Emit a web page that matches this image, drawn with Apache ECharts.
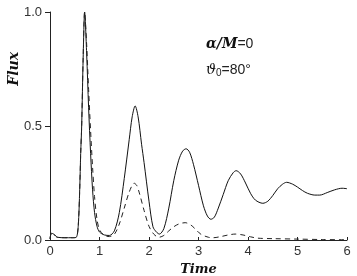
<!DOCTYPE html>
<html><head><meta charset="utf-8">
<script src="https://cdn.jsdelivr.net/npm/echarts@6/dist/echarts.min.js"></script>
<style>html,body{margin:0;padding:0;background:#fff}#c{width:357px;height:276px}</style>
</head><body><div id="c"></div>
<script>
const xTicks = [0,1,2,3,4,5,6];
const yTicks = [0.0,0.5,1.0];
const solidT = [0,0.03,0.08,0.15,0.3,0.45,0.53,0.57,0.6,0.62,0.64,0.67,0.7,0.74,0.78,0.82,0.86,0.9,0.95,1.0,1.1,1.2,1.3,1.4,1.5,1.6,1.66,1.72,1.78,1.85,1.9,2.0,2.08,2.15,2.21,2.3,2.4,2.5,2.6,2.68,2.75,2.82,2.9,3.0,3.1,3.18,3.25,3.32,3.4,3.5,3.6,3.7,3.76,3.85,3.95,4.05,4.15,4.3,4.4,4.5,4.6,4.7,4.78,4.9,5.0,5.1,5.2,5.35,5.45,5.6,5.75,5.9,6.0];
const solidV = [0.005,0.03,0.025,0.012,0.01,0.01,0.012,0.06,0.22,0.38,0.5,0.8,1.0,0.82,0.58,0.38,0.22,0.12,0.06,0.035,0.022,0.02,0.04,0.12,0.27,0.44,0.54,0.588,0.54,0.42,0.34,0.17,0.058,0.035,0.026,0.05,0.14,0.26,0.35,0.39,0.40,0.385,0.33,0.24,0.15,0.105,0.091,0.1,0.14,0.2,0.26,0.295,0.304,0.29,0.25,0.205,0.175,0.161,0.17,0.195,0.225,0.245,0.253,0.245,0.232,0.217,0.205,0.197,0.197,0.208,0.22,0.227,0.225];
const dashT = [0,0.03,0.08,0.15,0.3,0.45,0.53,0.57,0.6,0.62,0.64,0.67,0.7,0.74,0.78,0.82,0.86,0.9,0.95,1.0,1.1,1.2,1.3,1.4,1.5,1.6,1.7,1.75,1.8,1.9,2.0,2.1,2.2,2.3,2.4,2.5,2.6,2.73,2.85,2.95,3.05,3.2,3.3,3.45,3.6,3.74,3.9,4.05,4.2,4.5,5.0,5.5,6.0];
const dashV = [0.005,0.03,0.025,0.012,0.01,0.01,0.012,0.06,0.22,0.38,0.5,0.8,1.0,0.86,0.66,0.48,0.32,0.19,0.09,0.045,0.02,0.015,0.025,0.07,0.14,0.21,0.249,0.24,0.21,0.13,0.06,0.025,0.012,0.02,0.04,0.058,0.07,0.076,0.065,0.045,0.025,0.012,0.01,0.015,0.022,0.026,0.022,0.014,0.008,0.006,0.004,0.002,0.001];
const zip = (a,b)=>a.map((t,i)=>[t,b[i]]);
const serif = 'DejaVu Serif';
const chart = echarts.init(document.getElementById('c'));
chart.setOption({
  animation:false,
  grid:{left:50,right:10,top:12,bottom:36,containLabel:false,outerBoundsMode:'none'},
  xAxis:{type:'value',min:0,max:6,interval:1,
    axisLine:{lineStyle:{color:'#222',width:1}},
    axisTick:{inside:true,length:3,lineStyle:{color:'#222'}},
    splitLine:{show:false},
    axisLabel:{color:'#333',fontSize:13,fontFamily:'Liberation Sans',margin:5,formatter:v=>String(v)},
    name:'Time',nameLocation:'middle',nameGap:20,
    nameTextStyle:{fontFamily:serif,fontStyle:'italic',fontWeight:'bold',fontSize:13,color:'#111'}},
  yAxis:{type:'value',min:0,max:1,interval:0.5,
    axisLine:{show:true,lineStyle:{color:'#222',width:1}},
    axisTick:{show:true,length:5,lineStyle:{color:'#222'}},
    splitLine:{show:false},
    axisLabel:{color:'#333',fontSize:13,fontFamily:'Liberation Sans',margin:8,formatter:v=>v.toFixed(1)}},
  graphic:[
    {type:'text',left:7,top:52,rotation:Math.PI/2,style:{text:'Flux',font:'italic bold 14px "DejaVu Serif"',fill:'#111'}},
    {type:'text',left:206,top:37,style:{rich:{a:{font:'italic bold 14px "DejaVu Serif"',fill:'#111'},b:{font:'14px "Liberation Sans"',fill:'#222'}},text:'{a|α/M}{b|=0}'}},
    {type:'text',left:206,top:63,style:{rich:{a:{font:'italic 14px "DejaVu Serif"',fill:'#111'},s:{font:'10px "Liberation Sans"',fill:'#222',verticalAlign:'bottom',padding:[6,0,0,0]},b:{font:'14px "Liberation Sans"',fill:'#222'}},text:'{a|ϑ}{s|0}{b|=80°}'}}
  ],
  series:[
    {type:'line',data:zip(solidT,solidV),showSymbol:false,smooth:0.3,lineStyle:{color:'#111',width:1}},
    {type:'line',data:zip(dashT,dashV),showSymbol:false,smooth:0.3,lineStyle:{color:'#222',width:1,type:[5,4]}}
  ]
});
</script></body></html>
